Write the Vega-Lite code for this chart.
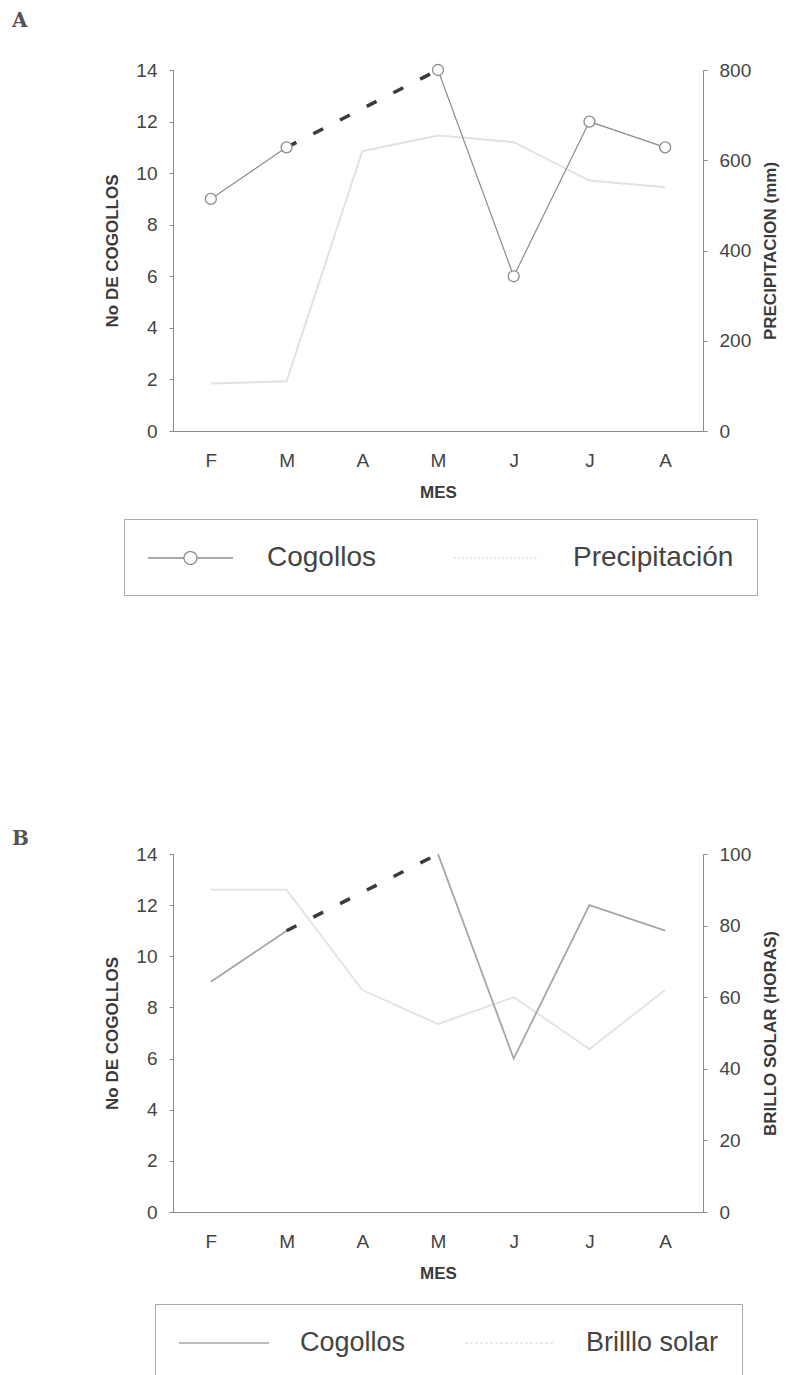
{
  "$schema": "https://vega.github.io/schema/vega-lite/v6.json",
  "background": "white",
  "padding": {"left": 12, "top": 11, "right": 2, "bottom": 0},
  "spacing": 233,
  "config": {
    "view": {"stroke": null},
    "font": "Liberation Sans",
    "axis": {
      "labelFont": "Liberation Sans", "labelFontSize": 19, "labelColor": "#444",
      "titleFont": "Liberation Sans", "titleFontSize": 17, "titleFontWeight": "bold", "titleColor": "#3a3a3a",
      "domainColor": "#8a8a8a", "tickColor": "#8a8a8a", "grid": false, "tickSize": 4
    }
  },
  "datasets": {
    "cog": [
      {"mes": "Feb", "cog": 9, "tramo": 1},
      {"mes": "Mar", "cog": 11, "tramo": 1},
      {"mes": "May", "cog": 14, "tramo": 2},
      {"mes": "Jun", "cog": 6, "tramo": 2},
      {"mes": "Jul", "cog": 12, "tramo": 2},
      {"mes": "Ago", "cog": 11, "tramo": 2}
    ],
    "dash": [
      {"mes": "Mar", "cog": 11},
      {"mes": "May", "cog": 14}
    ],
    "precip": [
      {"mes": "Feb", "precip": 105},
      {"mes": "Mar", "precip": 110},
      {"mes": "Abr", "precip": 620},
      {"mes": "May", "precip": 655},
      {"mes": "Jun", "precip": 640},
      {"mes": "Jul", "precip": 555},
      {"mes": "Ago", "precip": 540}
    ],
    "brillo": [
      {"mes": "Feb", "brillo": 90},
      {"mes": "Mar", "brillo": 90},
      {"mes": "Abr", "brillo": 62},
      {"mes": "May", "brillo": 52.5},
      {"mes": "Jun", "brillo": 60},
      {"mes": "Jul", "brillo": 45.5},
      {"mes": "Ago", "brillo": 62}
    ]
  },
  "vconcat": [
    {
      "title": {"text": "A", "anchor": "start", "frame": "group", "dx": -161, "offset": 30, "font": "DejaVu Serif", "fontSize": 20, "fontWeight": "bold", "color": "#555"},
      "width": 530,
      "height": 361,
      "layer": [
        {
          "data": {"name": "precip"},
          "mark": {"type": "line", "strokeWidth": 2},
          "encoding": {
            "x": {"field": "mes", "type": "ordinal", "scale": {"type": "point", "domain": ["Feb","Mar","Abr","May","Jun","Jul","Ago"], "padding": 0.5}, "axis": {"title": "MES", "labelExpr": "upper(slice(datum.label,0,1))", "ticks": false, "labelAngle": 0, "labelPadding": 20, "titlePadding": 14}},
            "y": {"field": "precip", "type": "quantitative", "scale": {"domain": [0, 800]}, "axis": {"orient": "right", "title": "PRECIPITACION (mm)", "values": [0,200,400,600,800], "titleAngle": -90, "titleBaseline": "top", "labelPadding": 12, "titlePadding": 12}},
            "color": {
              "datum": "Precipitación",
              "scale": {"domain": ["Cogollos", "Precipitación"], "range": ["#8c8c8c", "#e2e2e2"]},
              "legend": {
                "orient": "none", "legendX": -49, "legendY": 449, "direction": "horizontal", "title": null,
                "labelFont": "Liberation Sans", "labelFontSize": 28, "labelColor": "#444", "labelLimit": 400,
                "symbolSize": 900, "symbolStrokeWidth": 1.3, "labelOffset": 88, "columnPadding": 75,
                "padding": 23, "strokeColor": "#aaa", "fillColor": "white", "symbolType": "stroke",
                "encode": {"symbols": {"update": {
                  "shape": {"signal": "datum.value === 'Cogollos' ? 'M-1,0L1.4,0M2.26,0L4.67,0M2.26,0A0.43,0.43,0,1,1,1.4,0A0.43,0.43,0,1,1,2.26,0' : 'M-1,0L4.67,0'"},
                  "strokeDash": {"signal": "datum.value === 'Cogollos' ? [1,0] : [2,2]"},
                  "fill": {"value": "white"}
                }}}
              }
            }
          }
        },
        {
          "layer": [
            {
              "data": {"name": "cog"},
              "mark": {"type": "line", "strokeWidth": 1.2},
              "encoding": {
                "x": {"field": "mes", "type": "ordinal"},
                "y": {"field": "cog", "type": "quantitative", "scale": {"domain": [0, 14]}, "axis": {"orient": "left", "title": "No DE COGOLLOS", "values": [0,2,4,6,8,10,12,14], "labelPadding": 12, "titlePadding": 14}},
                "detail": {"field": "tramo", "type": "nominal"},
                "color": {"datum": "Cogollos"}
              }
            },
            {
              "data": {"name": "dash"},
              "mark": {"type": "line", "strokeWidth": 3.5, "color": "#3a3a3a", "strokeDash": [11, 19], "strokeCap": "butt"},
              "encoding": {
                "x": {"field": "mes", "type": "ordinal"},
                "y": {"field": "cog", "type": "quantitative"}
              }
            },
            {
              "data": {"name": "cog"},
              "mark": {"type": "point", "shape": "circle", "filled": true, "fill": "white", "stroke": "#8c8c8c", "strokeWidth": 1.3, "size": 120, "opacity": 1},
              "encoding": {
                "x": {"field": "mes", "type": "ordinal"},
                "y": {"field": "cog", "type": "quantitative"}
              }
            }
          ]
        }
      ],
      "resolve": {"scale": {"y": "independent"}}
    },
    {
      "title": {"text": "B", "anchor": "start", "frame": "group", "dx": -161, "offset": -4, "font": "DejaVu Serif", "fontSize": 20, "fontWeight": "bold", "color": "#555"},
      "width": 530,
      "height": 358,
      "layer": [
        {
          "data": {"name": "brillo"},
          "mark": {"type": "line", "strokeWidth": 2},
          "encoding": {
            "x": {"field": "mes", "type": "ordinal", "scale": {"type": "point", "domain": ["Feb","Mar","Abr","May","Jun","Jul","Ago"], "padding": 0.5}, "axis": {"title": "MES", "labelExpr": "upper(slice(datum.label,0,1))", "ticks": false, "labelAngle": 0, "labelPadding": 20, "titlePadding": 14}},
            "y": {"field": "brillo", "type": "quantitative", "scale": {"domain": [0, 100]}, "axis": {"orient": "right", "title": "BRILLO SOLAR (HORAS)", "values": [0,20,40,60,80,100], "titleAngle": -90, "titleBaseline": "top", "labelPadding": 12, "titlePadding": 12}},
            "color": {
              "datum": "Brilllo solar",
              "scale": {"domain": ["Cogollos", "Brilllo solar"], "range": ["#a6a6a6", "#e4e4e4"]},
              "legend": {
                "orient": "none", "legendX": -18, "legendY": 450, "direction": "horizontal", "title": null,
                "labelFont": "Liberation Sans", "labelFontSize": 27, "labelColor": "#444", "labelLimit": 400,
                "symbolSize": 900, "symbolStrokeWidth": 1.6, "labelOffset": 90, "columnPadding": 55,
                "padding": 23, "strokeColor": "#aaa", "fillColor": "white", "symbolType": "stroke",
                "encode": {"symbols": {"update": {
                  "shape": {"value": "M-1,0L5,0"},
                  "strokeDash": {"signal": "datum.value === 'Cogollos' ? [1,0] : [3,2]"}
                }}}
              }
            }
          }
        },
        {
          "layer": [
            {
              "data": {"name": "cog"},
              "mark": {"type": "line", "strokeWidth": 1.8},
              "encoding": {
                "x": {"field": "mes", "type": "ordinal"},
                "y": {"field": "cog", "type": "quantitative", "scale": {"domain": [0, 14]}, "axis": {"orient": "left", "title": "No DE COGOLLOS", "values": [0,2,4,6,8,10,12,14], "labelPadding": 12, "titlePadding": 14}},
                "detail": {"field": "tramo", "type": "nominal"},
                "color": {"datum": "Cogollos"}
              }
            },
            {
              "data": {"name": "dash"},
              "mark": {"type": "line", "strokeWidth": 3.5, "color": "#3a3a3a", "strokeDash": [11, 19], "strokeCap": "butt"},
              "encoding": {
                "x": {"field": "mes", "type": "ordinal"},
                "y": {"field": "cog", "type": "quantitative"}
              }
            }
          ]
        }
      ],
      "resolve": {"scale": {"y": "independent"}}
    }
  ],
  "resolve": {"scale": {"color": "independent"}, "legend": {"color": "independent"}}
}
